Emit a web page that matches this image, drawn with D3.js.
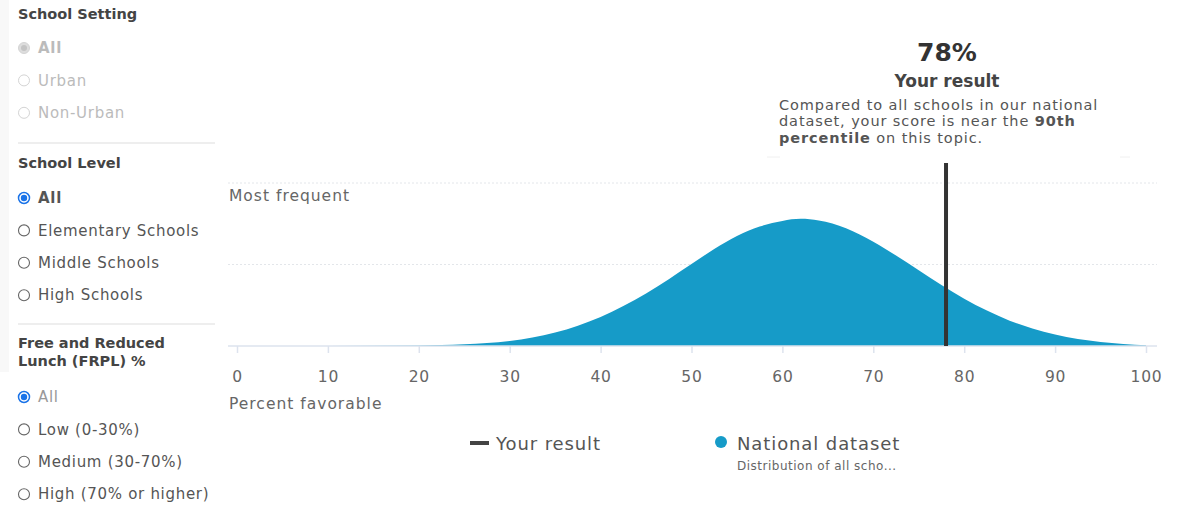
<!DOCTYPE html>
<html>
<head>
<meta charset="utf-8">
<script src="https://cdn.jsdelivr.net/npm/d3@7"></script>
<style>
  body { margin: 0; background: #fff; }
  svg { display: block; font-family: "DejaVu Sans", sans-serif; }
</style>
</head>
<body>
<svg id="chart" width="1185" height="508"></svg>
<script>
// distribution of the national dataset (share of schools, %)
const scoreX = [0, 10, 20, 22.5, 25, 27.5, 30, 32.5, 35, 37.5, 40, 42.5, 45, 47.5, 50, 52.5,
  55, 57.5, 60, 62, 64, 67, 70, 72.5, 75, 77.5, 80, 82.5, 85, 87.5, 90, 92.5, 95, 97.5, 100];
const density = [0, 0.001, 0.012, 0.025, 0.045, 0.075, 0.125, 0.21, 0.33, 0.5, 0.71, 0.98, 1.29,
  1.64, 2.01, 2.38, 2.7, 2.93, 3.07, 3.12, 3.08, 2.89, 2.56, 2.22, 1.86, 1.5, 1.16, 0.87, 0.62,
  0.43, 0.28, 0.17, 0.1, 0.05, 0.02];
const xTicks = [0, 10, 20, 30, 40, 50, 60, 70, 80, 90, 100];
const yGrid = [0, 2, 4];
const yourResult = 78;

const filterGroups = [
  { title: ['School Setting'], disabled: true, options: ['All', 'Urban', 'Non-Urban'], checked: 0, boldChecked: true },
  { title: ['School Level'], disabled: false, options: ['All', 'Elementary Schools', 'Middle Schools', 'High Schools'], checked: 0, boldChecked: true },
  { title: ['Free and Reduced', 'Lunch (FRPL) %'], disabled: false, options: ['All', 'Low (0-30%)', 'Medium (30-70%)', 'High (70% or higher)'], checked: 0, boldChecked: false }
];

const svg = d3.select('#chart');
const blue = '#169bc8';

// ---- sidebar filters
svg.append('rect').attr('x', 0).attr('y', 0).attr('width', 9).attr('height', 372).attr('fill', '#f8f8f8');

const side = svg.append('g');
const groupTops = [14, 163, 343];
const optTops = [48, 198, 397];
filterGroups.forEach((grp, gi) => {
  grp.title.forEach((t, ti) => {
    side.append('text').attr('x', 18).attr('y', groupTops[gi] + ti * 18).attr('dy', '0.35em')
      .attr('font-size', 14.5).attr('font-weight', 'bold').attr('fill', '#444').text(t);
  });
  grp.options.forEach((o, oi) => {
    const cy = optTops[gi] + oi * 32.4;
    const checked = oi === grp.checked;
    const c = side.append('g');
    if (grp.disabled) {
      c.append('circle').attr('cx', 24).attr('cy', cy).attr('r', 5.5)
        .attr('fill', checked ? '#ddd' : '#fff').attr('stroke', '#d4d4d4');
      if (checked) c.append('circle').attr('cx', 24).attr('cy', cy).attr('r', 3).attr('fill', '#c4c4c4');
    } else if (checked) {
      c.append('circle').attr('cx', 24).attr('cy', cy).attr('r', 5.5).attr('fill', '#fff').attr('stroke', '#1a73e8').attr('stroke-width', 1.5);
      c.append('circle').attr('cx', 24).attr('cy', cy).attr('r', 3.2).attr('fill', '#1a73e8');
    } else {
      c.append('circle').attr('cx', 24).attr('cy', cy).attr('r', 5.5).attr('fill', '#fff').attr('stroke', '#666').attr('stroke-width', 1.1);
    }
    side.append('text').attr('x', 38).attr('y', cy).attr('dy', '0.35em')
      .attr('font-size', 15).attr('letter-spacing', 0.7)
      .attr('font-weight', checked && grp.boldChecked ? 'bold' : 'normal')
      .attr('fill', grp.disabled ? '#bbb' : (checked && !grp.boldChecked ? '#999' : '#555'))
      .text(o);
  });
});
[143, 324].forEach(y => {
  side.append('line').attr('x1', 18).attr('x2', 215).attr('y1', y).attr('y2', y)
    .attr('stroke', '#e8e8e8').attr('stroke-width', 1.5);
});

// ---- chart
const x = d3.scaleLinear().domain([0, 100]).range([237, 1146]);
const y = d3.scaleLinear().domain([0, 4]).range([346, 183]);
const plotL = 228, plotR = 1157;

svg.append('g').selectAll('line').data(yGrid.filter(d => d > 0)).join('line')
  .attr('x1', plotL).attr('x2', plotR).attr('y1', d => y(d)).attr('y2', d => y(d))
  .attr('stroke', '#e3e6ea').attr('stroke-dasharray', '2,2');

const pts = scoreX.map((s, i) => [s, density[i]]);
const area = d3.area().x(d => x(d[0])).y0(y(0)).y1(d => y(d[1])).curve(d3.curveMonotoneX);
svg.append('path').datum(pts).attr('d', area).attr('fill', blue);

// x axis
const xAxis = d3.axisBottom(x).tickValues(xTicks).tickSize(7).tickPadding(18);
const ax = svg.append('g').attr('transform', `translate(0,${y(0)})`).call(xAxis);
ax.select('.domain').remove();
ax.selectAll('.tick line').attr('stroke', '#dde3ee').attr('stroke-width', 1.5);
ax.selectAll('.tick text').attr('fill', '#666').attr('font-size', 15.5).attr('letter-spacing', 0.8)
  .attr('font-family', '"DejaVu Sans", sans-serif');
svg.append('line').attr('x1', plotL).attr('x2', plotR).attr('y1', y(0)).attr('y2', y(0))
  .attr('stroke', '#dde3ee').attr('stroke-width', 1.5);

svg.append('text').attr('x', 229).attr('y', 196).attr('dy', '0.35em').attr('font-size', 15.5)
  .attr('letter-spacing', 1).attr('fill', '#666').text('Most frequent');
svg.append('text').attr('x', 229).attr('y', 404).attr('dy', '0.35em').attr('font-size', 15.5)
  .attr('letter-spacing', 1).attr('fill', '#666').text('Percent favorable');

// your result marker
svg.append('line').attr('x1', x(yourResult)).attr('x2', x(yourResult)).attr('y1', 163).attr('y2', y(0))
  .attr('stroke', '#333').attr('stroke-width', 4);

// annotation
const ann = svg.append('g');
ann.append('text').attr('x', 947).attr('y', 52).attr('dy', '0.35em').attr('text-anchor', 'middle')
  .attr('font-size', 25).attr('font-weight', 'bold').attr('fill', '#333').text(yourResult + '%');
ann.append('text').attr('x', 947).attr('y', 81).attr('dy', '0.35em').attr('text-anchor', 'middle')
  .attr('font-size', 17).attr('font-weight', 'bold').attr('fill', '#444').text('Your result');
const desc = ann.append('text').attr('font-size', 14.5).attr('letter-spacing', 0.9).attr('fill', '#555');
desc.append('tspan').attr('x', 779).attr('y', 110).text('Compared to all schools in our national');
desc.append('tspan').attr('x', 779).attr('y', 126).text('dataset, your score is near the ')
  .append('tspan').attr('font-weight', 'bold').text('90th');
const l3 = desc.append('tspan').attr('x', 779).attr('y', 143);
l3.append('tspan').attr('font-weight', 'bold').text('percentile');
l3.append('tspan').text(' on this topic.');
[[767, 780], [1120, 1130]].forEach(([a, b]) => {
  ann.append('line').attr('x1', a).attr('x2', b).attr('y1', 157).attr('y2', 157).attr('stroke', '#f0f0f0');
});

// legend
const leg = svg.append('g');
leg.append('line').attr('x1', 470).attr('x2', 489).attr('y1', 443).attr('y2', 443).attr('stroke', '#444').attr('stroke-width', 4);
leg.append('text').attr('x', 496).attr('y', 444).attr('dy', '0.35em').attr('font-size', 18).attr('letter-spacing', 0.9)
  .attr('fill', '#555').text('Your result');
leg.append('circle').attr('cx', 721).attr('cy', 442).attr('r', 6).attr('fill', blue);
leg.append('text').attr('x', 737).attr('y', 444).attr('dy', '0.35em').attr('font-size', 18).attr('letter-spacing', 0.9)
  .attr('fill', '#555').text('National dataset');
leg.append('text').attr('x', 737).attr('y', 466).attr('dy', '0.35em').attr('font-size', 12).attr('letter-spacing', 0.5)
  .attr('fill', '#666').text('Distribution of all scho...');
</script>
</body>
</html>
